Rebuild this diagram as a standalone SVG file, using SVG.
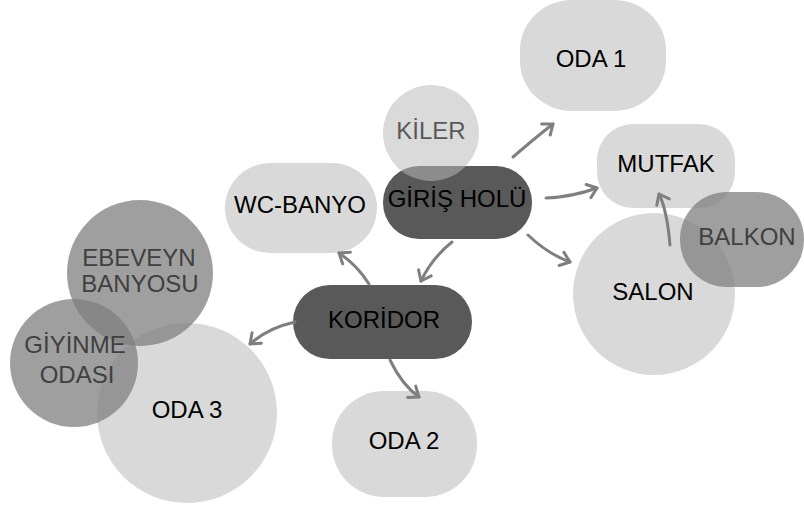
<svg xmlns="http://www.w3.org/2000/svg" width="804" height="506" viewBox="0 0 804 506">
  <style>
    text { font-family: "Liberation Sans", Arial, sans-serif; font-size: 24px; text-anchor: middle; }
    .light { fill: #d9d9d9; }
    .dark { fill: #595959; }
    .mid { fill: #7f7f7f; fill-opacity: 0.75; }
    .pale { fill: #b9b9b9; fill-opacity: 0.53; }
    .t-black { fill: #000000; }
    .t-mid { fill: #404040; }
    .t-pale { fill: #595959; }
    .link { fill: none; stroke: #7f7f7f; stroke-width: 3; stroke-linecap: round; marker-end: url(#head); }
  </style>
  <defs>
    <marker id="head" markerUnits="userSpaceOnUse" markerWidth="20" markerHeight="20" refX="13" refY="10" orient="auto">
      <path d="M4,3 L13,10 L4,17" fill="none" stroke="#7f7f7f" stroke-width="3" stroke-linecap="round" stroke-linejoin="round"/>
    </marker>
  </defs>
  <rect width="804" height="506" fill="#ffffff"/>

  <g id="oda1">
    <rect class="light" x="520" y="0" width="146" height="111" rx="52" ry="50"/>
    <text class="t-black" x="591" y="67">ODA 1</text>
  </g>
  <g id="mutfak">
    <rect class="light" x="597" y="124" width="138" height="84" rx="36" ry="36"/>
    <text class="t-black" x="666" y="172">MUTFAK</text>
  </g>
  <g id="salon">
    <circle class="light" cx="654" cy="294" r="81"/>
    <text class="t-black" x="653" y="300">SALON</text>
  </g>
  <g id="balkon">
    <rect class="mid" x="680" y="192" width="124" height="95" rx="47" ry="47"/>
    <text class="t-mid" x="747" y="245">BALKON</text>
  </g>
  <g id="giris-holu">
    <rect class="dark" x="383" y="166" width="149" height="73" rx="36" ry="36"/>
    <text class="t-black" x="457" y="207">GİRİŞ HOLÜ</text>
  </g>
  <g id="kiler">
    <circle class="pale" cx="431" cy="133" r="48"/>
    <text class="t-pale" x="431" y="139">KİLER</text>
  </g>
  <g id="wc-banyo">
    <rect class="light" x="225" y="163" width="152" height="90" rx="45" ry="45"/>
    <text class="t-black" x="300" y="213">WC-BANYO</text>
  </g>
  <g id="koridor">
    <rect class="dark" x="293" y="285" width="179" height="74" rx="37" ry="37"/>
    <text class="t-black" x="384" y="328">KORİDOR</text>
  </g>
  <g id="oda2">
    <rect class="light" x="332" y="391" width="145" height="106" rx="52" ry="52"/>
    <text class="t-black" x="404" y="449">ODA 2</text>
  </g>
  <g id="oda3">
    <circle class="light" cx="187" cy="413" r="90"/>
    <text class="t-black" x="187" y="418">ODA 3</text>
  </g>
  <g id="ebeveyn-banyosu">
    <circle class="mid" cx="140" cy="273" r="73"/>
    <text class="t-mid" x="139" y="266">EBEVEYN</text>
    <text class="t-mid" x="140" y="292">BANYOSU</text>
  </g>
  <g id="giyinme-odasi">
    <circle class="mid" cx="74" cy="363" r="64"/>
    <text class="t-mid" x="75" y="353">GİYİNME</text>
    <text class="t-mid" x="77" y="383">ODASI</text>
  </g>

  <g id="connectors">
    <path class="link" d="M513,157 Q535,138 553,124"/>
    <path class="link" d="M546,198 Q572,197 597,188"/>
    <path class="link" d="M528,235 Q548,254 570,262"/>
    <path class="link" d="M452,242 Q432,258 421,281"/>
    <path class="link" d="M369,284 Q357,265 339,253"/>
    <path class="link" d="M295,322 Q268,328 250,344"/>
    <path class="link" d="M390,360 Q402,385 419,397"/>
    <path class="link" d="M670,245 Q667,210 659,194"/>
  </g>
</svg>
